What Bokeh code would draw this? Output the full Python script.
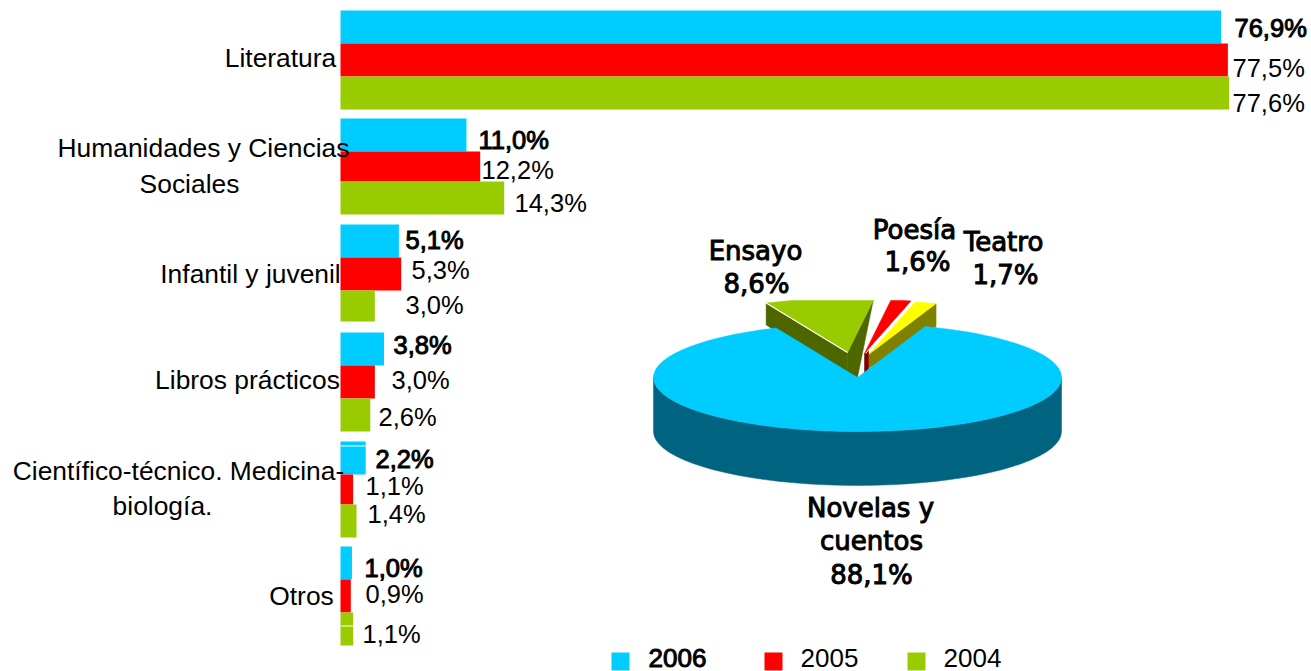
import math
from bokeh.plotting import figure
from bokeh.models import Range1d, ColumnDataSource
from bokeh.core.properties import value
from bokeh.embed import file_html
from bokeh.resources import INLINE

# ---- data ----
categories = ["Literatura", "Humanidades y Ciencias\nSociales", "Infantil y juvenil",
              "Libros prácticos", "Científico-técnico. Medicina-\nbiología.", "Otros"]
years = ["2006", "2005", "2004"]
v2006 = [76.9, 11.0, 5.1, 3.8, 2.2, 1.0]
v2005 = [77.5, 12.2, 5.3, 3.0, 1.1, 0.9]
v2004 = [77.6, 14.3, 3.0, 2.6, 1.4, 1.1]
pie_labels = ["Novelas y\ncuentos", "Ensayo", "Poesía", "Teatro"]
pie_shares = [88.1, 8.6, 1.6, 1.7]

# ---- layout (picture pixels) ----
W, H, M = 1311, 671, 0
X0, PX_PER_PCT = 340.0, 11.45
CYAN, RED, GREEN = "#00CCFF", "#FF0000", "#99CC00"
bar_edges = [[10, 43, 76, 109], [118, 151, 181, 214], [224, 257, 290, 321],
             [332, 365, 398, 431], [441, 474, 504, 537], [546, 579, 612, 645]]
value_lab_pos = [[(1234, 27), (1232, 67), (1232, 102)],
                 [(478, 139), (481, 169), (514, 202)],
                 [(405, 239), (411, 269), (405, 304)],
                 [(393, 344), (391, 379), (378, 416)],
                 [(375, 458), (365, 485), (367, 513)],
                 [(364, 567), (365, 593), (362, 633)]]
cat_lab_pos = [[(280, 57)], [(203, 147), (189, 183)], [(250, 273)], [(247, 379)],
               [(178, 470), (162, 505)], [(301, 595)]]
pie_lab_pos = [[(870, 507), (871, 540), (871, 574)], [(755, 250), (756, 283)],
               [(914, 229), (917, 261)], [(1003, 241), (1005, 274)]]
CX, CY, RX, RY = 857.0, 377.0, 204.0, 54.0
DEPTH = 54.0
GAP_START = 113.5
CLIP_Y = 300.0
WEDGE_APEX = {"Ensayo": (847, 352), "Poesía": (864, 353), "Teatro": (868, 354)}
WEDGE_DEPTH = 22

p = figure(width=W, height=H, output_backend="svg", toolbar_location=None,
           x_range=Range1d((M - X0) / PX_PER_PCT, (M + W - X0) / PX_PER_PCT),
           y_range=Range1d(M + H, M),
           min_border=0, min_border_left=0, min_border_right=0, min_border_top=0, min_border_bottom=0,
           outline_line_color=None, background_fill_color="white", border_fill_color="white")
p.axis.visible = False
p.grid.visible = False
p.extra_x_ranges["px"] = Range1d(M, M + W)


def px_patch(xs, ys, color):
    p.patch(xs, ys, fill_color=color, line_color=color, line_width=0.5, x_range_name="px")


def px_text(xs, ys, texts, font, size, heavy=False, align="center"):
    src = ColumnDataSource(dict(x=xs, y=ys, t=texts))
    p.text("x", "y", text="t", source=src, x_range_name="px", text_font=value(font),
           text_font_size=size, text_align=align, text_baseline="middle", text_color="#000000",
           text_outline_color="#000000" if heavy else None)


# ---- bars ----
series = [v2006, v2005, v2004]
colors = [CYAN, RED, GREEN]
for j, (vals, col) in enumerate(zip(series, colors)):
    p.quad(left=[0] * len(vals), right=vals,
           top=[e[j] for e in bar_edges], bottom=[e[j + 1] for e in bar_edges],
           fill_color=col, line_color=None)
    px_text([value_lab_pos[i][j][0] for i in range(len(vals))],
            [value_lab_pos[i][j][1] for i in range(len(vals))],
            [f"{v:.1f}".replace(".", ",") + "%" for v in vals],
            "Liberation Sans", "25.5px", j == 0, "left")

# small white slits in two bars of the original
p.quad(left=[0, 0], right=[v2006[4], v2004[5]], top=[445, 625], bottom=[446, 626],
       fill_color="white", line_color=None)

# ---- category labels ----
for label, pos in zip(categories, cat_lab_pos):
    lines = label.split("\n")
    px_text([q[0] for q in pos], [q[1] for q in pos], lines, "Liberation Sans", "26.4px")


# ---- pie ----
def pt(ax, ay, ang, rx=RX, ry=RY):
    a = math.radians(ang)
    return ax + rx * math.cos(a), ay - ry * math.sin(a)


def clip(poly):
    out = []
    for k in range(len(poly)):
        a, b = poly[k], poly[(k + 1) % len(poly)]
        if a[1] >= CLIP_Y:
            out.append(a)
        if (a[1] >= CLIP_Y) != (b[1] >= CLIP_Y):
            t = (CLIP_Y - a[1]) / (b[1] - a[1])
            out.append((a[0] + t * (b[0] - a[0]), CLIP_Y))
    return out


def arc(ax, ay, a0, a1, n=40):
    return [pt(ax, ay, a0 + (a1 - a0) * k / n) for k in range(n + 1)]


def draw(poly, color):
    poly = clip(poly)
    px_patch([q[0] for q in poly], [q[1] for q in poly], color)


ang = GAP_START
spans = {}
for lab, sh in zip(pie_labels[1:], pie_shares[1:]):
    spans[lab] = (ang, ang - sh * 3.6)
    ang -= sh * 3.6
gap_end = ang

# exploded small wedges
a0, a1 = spans["Ensayo"]
A = WEDGE_APEX["Ensayo"]
e0 = pt(A[0], A[1], a0)
draw([A, e0, (e0[0], e0[1] + WEDGE_DEPTH), (A[0], A[1] + 25)], "#4D6600")
right_top = (A[0] + (pt(*A, a1)[0] - A[0]) * (A[1] - CLIP_Y) / (A[1] - pt(*A, a1)[1]), CLIP_Y)
draw([A, right_top, (CX, CY), (A[0], CY)], "#4D6600")
draw([A] + arc(A[0], A[1], a0, a1), GREEN)
p.line([A[0], e0[0]], [A[1], e0[1]], line_color="white", line_width=1.2, x_range_name="px")

a0, a1 = spans["Teatro"]
A = WEDGE_APEX["Teatro"]
e1 = pt(A[0], A[1], a1)
draw([A, e1, (e1[0], e1[1] + 23), (A[0], A[1] + 14)], "#808000")
draw([A] + arc(A[0], A[1], a0, a1), "#FFFF00")

a0, a1 = spans["Poesía"]
A = WEDGE_APEX["Poesía"]
draw([A, (A[0], A[1] + 21), (A[0] + 4, A[1] + 17), (A[0] + 4, A[1] - 4)], "#800000")
draw([A] + arc(A[0], A[1], a0, a1), RED)
p.line([A[0] + 1, pt(*A, a1)[0] + 1], [A[1], pt(*A, a1)[1]], line_color="white", line_width=1, x_range_name="px")

# main slice: side wall then top
low = arc(CX, CY, 180, 360)
wall = low + [(q[0], q[1] + DEPTH) for q in reversed(low)]
px_patch([q[0] for q in wall], [q[1] for q in wall], "#006480")
top = [(CX, CY)] + arc(CX, CY, gap_end, gap_end - pie_shares[0] * 3.6, 160)
px_patch([q[0] for q in top], [q[1] for q in top], CYAN)

# ---- pie labels ----
for lab, sh, pos in zip(pie_labels, pie_shares, pie_lab_pos):
    lines = lab.split("\n") + [f"{sh:.1f}".replace(".", ",") + "%"]
    px_text([q[0] for q in pos], [q[1] for q in pos], lines, "DejaVu Sans", "26px", True)

# ---- legend ----
leg_sq = [611, 764, 907]
leg_tx = [648, 800, 943]
for j, (y, col) in enumerate(zip(years, colors)):
    p.quad(left=[leg_sq[j]], right=[leg_sq[j] + 18], top=[652], bottom=[670],
           fill_color=col, line_color=None, x_range_name="px")
    px_text([leg_tx[j]], [657], [y], "Liberation Sans", "26px", j == 0, "left")

open("out.html", "w").write(file_html(p, INLINE))
